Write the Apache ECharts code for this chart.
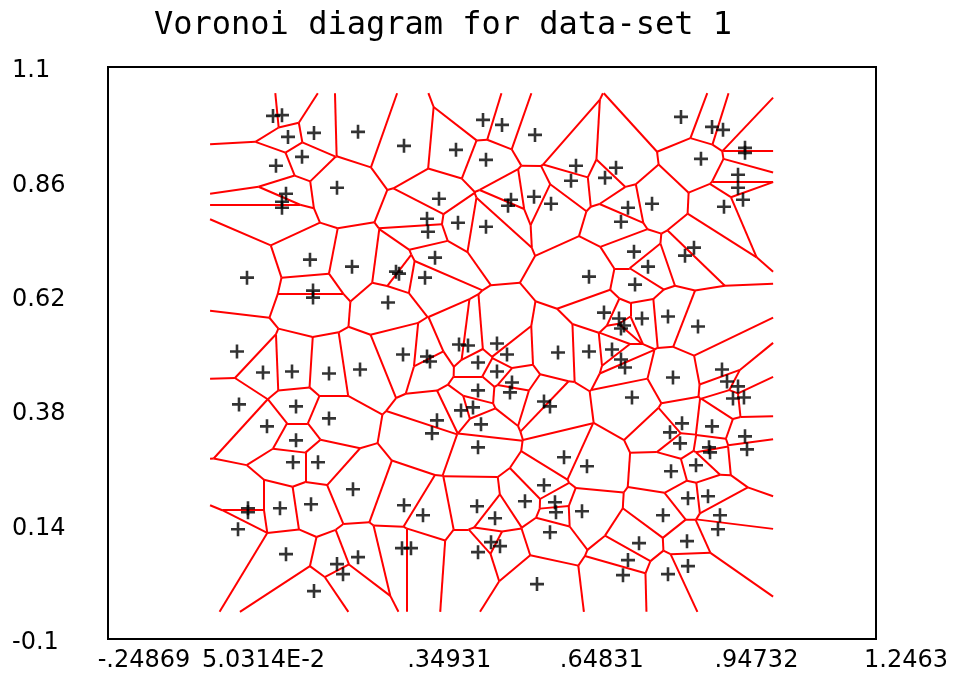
<!DOCTYPE html>
<html><head><meta charset="utf-8">
<script src="https://cdn.jsdelivr.net/npm/echarts@6/dist/echarts.min.js"></script>
<style>html,body{margin:0;padding:0;background:#fff}#c{width:962px;height:673px}</style>
</head><body><div id="c"></div>
<script>
const titleText = 'Voronoi diagram for data-set 1';
const xTicks = [-0.24869, 0.050314, 0.34931, 0.64831, 0.94732, 1.2463];
const xTickLabels = ['-.24869', '5.0314E-2', '.34931', '.64831', '.94732', '1.2463'];
const yTicks = [-0.1, 0.14, 0.38, 0.62, 0.86, 1.1];
const yTickLabels = ['-0.1', '0.14', '0.38', '0.62', '0.86', '1.1'];
// bounding box used to clip the diagram: [xmin, xmax, ymin, ymax]
const clipBox = [-0.05, 1.046, -0.043, 1.045];

const siteX = [
0.0725,0.090,0.1017,0.1523,0.1290,0.0783,0.1971,0.0978,0.0900,0.0900,0.1445,0.2380,0.2263,
0.3275,0.4287,0.4813,0.4871,0.3956,0.3723,0.3742,0.4326,0.4871,0.3879,
0.5183,0.5825,0.6623,0.6526,0.7402,0.7188,0.5358,0.5300,0.5806,0.6137,0.7499,
0.8667,0.9271,0.9485,0.9913,0.9913,0.9056,0.9777,0.9777,0.9874,0.9504,0.8103,0.7635,0.7752,0.8920,0.8745,0.8025,
0.0219,0.1504,0.1504,0.0024,0.0530,0.1095,0.1815,0.2419,0.0063,0.1173,0.0608,0.1815,
0.3119,0.3178,0.3684,0.2964,0.3256,0.3723,0.3781,0.4346,0.4521,0.4716,0.4716,0.4385,0.4618,0.3917,0.4774,0.3820,
0.6876,0.7168,0.5085,0.5280,0.5085,0.5377,0.5338,0.6000,0.6117,0.6273,0.6876,0.7324,
0.7772,0.7460,0.7558,0.7499,0.7908,0.8414,0.8998,0.7499,0.7577,0.8511,0.7713,0.9465,0.9563,0.9777,0.9679,0.9893,0.8687,0.8453,0.9271,
0.1173,0.1114,0.1601,0.2282,0.0238,0.0238,0.0861,0.1465,0.0044,0.0978,0.1971,0.2088,0.1523,0.2380,
0.4716,0.3275,0.3645,0.4696,0.4716,0.3236,0.3411,
0.6390,0.6837,0.6000,0.5630,0.6214,0.6234,0.6740,0.5047,0.6117,0.4969,0.5144,0.5864,
0.8648,0.9212,0.9232,0.9913,0.9952,0.8959,0.8473,0.8803,0.9193,0.8317,0.9426,0.9387,0.8784,0.7850,0.7635,0.7538,0.8414,0.8803
];
const siteY = [
0.9974,0.999,0.9534,0.9618,0.9115,0.8927,0.8466,0.8340,0.8173,0.8047,0.6958,0.9639,0.6812,
0.9346,0.9262,0.9890,0.9052,0.8236,0.7817,0.7545,0.7733,0.7649,0.7000,
0.9785,0.9576,0.8927,0.8613,0.8885,0.8675,0.8215,0.8089,0.8278,0.8131,0.7754,
0.9953,0.9743,0.9681,0.9304,0.9199,0.9073,0.8738,0.8466,0.8215,0.8068,0.8131,0.8047,0.7126,0.7210,0.7042,0.6812,
0.6581,0.6309,0.6162,0.5032,0.4592,0.4613,0.4571,0.4655,0.3922,0.3880,0.3461,0.3628,
0.6707,0.6665,0.6581,0.6058,0.4969,0.4927,0.4822,0.5178,0.5157,0.4801,0.4215,0.3796,0.3859,0.3587,0.3503,0.3314,
0.6602,0.5848,0.5199,0.4969,0.4613,0.4382,0.4173,0.3984,0.3880,0.5011,0.5032,0.5073,
0.6435,0.5723,0.5576,0.5513,0.5723,0.5765,0.5555,0.4864,0.4696,0.4487,0.4068,0.4655,0.4403,0.4299,0.4047,0.4068,0.3524,0.3335,0.3461,
0.3168,0.2707,0.2707,0.2142,0.1744,0.1660,0.1744,0.1827,0.1304,0.0780,0.0571,0.0361,0.0005,0.0717,
0.3021,0.1806,0.1597,0.1786,0.0822,0.0906,0.0906,
0.2812,0.2623,0.2225,0.1890,0.1869,0.1660,0.1681,0.1534,0.1241,0.1032,0.0948,0.0152,
0.3105,0.3021,0.2916,0.3251,0.2979,0.2644,0.2519,0.1953,0.1995,0.1597,0.1597,0.1304,0.1053,0.1011,0.0655,0.0340,0.0361,0.0529
];

// Voronoi cells by half-plane clipping of the box; each shared edge emitted once
function voronoiEdges(xs, ys, box) {
  const n = xs.length, segs = [];
  for (let i = 0; i < n; i++) {
    let poly = [
      {x: box[0], y: box[2], e: -1}, {x: box[1], y: box[2], e: -1},
      {x: box[1], y: box[3], e: -1}, {x: box[0], y: box[3], e: -1}
    ];
    for (let j = 0; j < n && poly.length >= 3; j++) {
      if (j === i) continue;
      const dx = xs[j] - xs[i], dy = ys[j] - ys[i];
      const mx = (xs[i] + xs[j]) / 2, my = (ys[i] + ys[j]) / 2;
      const f = p => (p.x - mx) * dx + (p.y - my) * dy;
      const out = [];
      for (let k = 0; k < poly.length; k++) {
        const a = poly[k], b = poly[(k + 1) % poly.length];
        const fa = f(a), fb = f(b);
        if (fa <= 0) {
          out.push(a);
          if (fb > 0) {
            const t = fa / (fa - fb);
            out.push({x: a.x + t * (b.x - a.x), y: a.y + t * (b.y - a.y), e: j});
          }
        } else if (fb <= 0) {
          const t = fa / (fa - fb);
          out.push({x: a.x + t * (b.x - a.x), y: a.y + t * (b.y - a.y), e: a.e});
        }
      }
      poly = out;
    }
    for (let k = 0; k < poly.length; k++) {
      const a = poly[k], b = poly[(k + 1) % poly.length];
      if (a.e > i) segs.push([[a.x, a.y], [b.x, b.y]]);
    }
  }
  return segs;
}

const edges = voronoiEdges(siteX, siteY, clipBox);
const sites = siteX.map((x, i) => [x, siteY[i]]);
const TITLE_FONT = 'DejaVu Sans Mono';
const LABEL_FONT = 'DejaVu Sans';
// horizontal offset (px) of each x tick label's centre from its tick, as in the original
const xLabelShift = [36, 2, 34, 33, 34, 30];
const idxOf = (ticks, v) => ticks.findIndex(t => Math.abs(t - v) < 1e-6);
const xRich = {};
xLabelShift.forEach((s, i) => {
  xRich['s' + i] = {fontFamily: LABEL_FONT, fontSize: 24, color: '#000', padding: [0, 0, 0, 2 * s]};
});
const yRich = {v: {fontFamily: LABEL_FONT, fontSize: 24, color: '#000', padding: [8, 0, 0, 0]}};

const chart = echarts.init(document.getElementById('c'), null, {renderer: 'canvas'});
chart.setOption({
  animation: false,
  backgroundColor: '#ffffff',
  title: {
    text: titleText, left: 149, top: 5,
    textStyle: {fontFamily: TITLE_FONT, fontSize: 32, fontWeight: 'normal', color: '#000'}
  },
  grid: {left: 108, top: 67, width: 768, height: 573, show: true,
         borderColor: '#000', borderWidth: 2, backgroundColor: 'transparent'},
  xAxis: {
    type: 'value', min: -0.24869, max: 1.2463,
    splitLine: {show: false}, axisLine: {show: false, onZero: false},
    axisTick: {show: false},
    axisLabel: {
      customValues: xTicks, margin: 10,
      formatter: v => { const i = idxOf(xTicks, v); return i < 0 ? '' : '{s' + i + '|' + xTickLabels[i] + '}'; },
      rich: xRich, fontFamily: LABEL_FONT, fontSize: 24, color: '#000'
    }
  },
  yAxis: {
    type: 'value', min: -0.1, max: 1.1,
    splitLine: {show: false}, axisLine: {show: false, onZero: false},
    axisTick: {show: false},
    axisLabel: {
      customValues: yTicks, margin: 96, align: 'left',
      formatter: v => { const i = idxOf(yTicks, v); return i < 0 ? '' : '{v|' + yTickLabels[i] + '}'; },
      rich: yRich, fontFamily: LABEL_FONT, fontSize: 24, color: '#000'
    }
  },
  series: [
    {
      type: 'lines', coordinateSystem: 'cartesian2d', polyline: false, silent: true, z: 2,
      data: edges.map(c => ({coords: c})),
      lineStyle: {color: '#ff0000', width: 2, opacity: 1, curveness: 0}
    },
    {
      type: 'scatter', z: 3, silent: true,
      data: sites,
      symbol: 'path://M5.7,0h2.6v5.7h5.7v2.6h-5.7v5.7h-2.6v-5.7h-5.7v-2.6h5.7z',
      symbolSize: 14,
      itemStyle: {color: '#000'}
    }
  ]
});
</script>
</body></html>
